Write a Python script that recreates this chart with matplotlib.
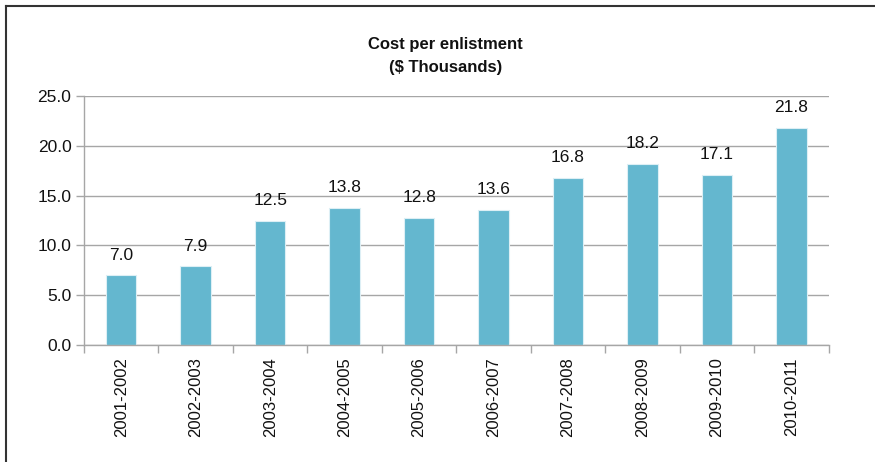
import matplotlib
matplotlib.use("Agg")
import matplotlib.pyplot as plt
from matplotlib.lines import Line2D

plt.rcParams['font.family'] = ['Liberation Sans Narrow', 'Liberation Sans', 'DejaVu Sans']

categories = ["2001-2002", "2002-2003", "2003-2004", "2004-2005", "2005-2006",
              "2006-2007", "2007-2008", "2008-2009", "2009-2010", "2010-2011"]
values = [7.0, 7.9, 12.5, 13.8, 12.8, 13.6, 16.8, 18.2, 17.1, 21.8]
yticks = [0, 5, 10, 15, 20, 25]

fig = plt.figure(figsize=(8.75, 4.62), dpi=100)
ax = fig.add_axes([0.096, 0.2532, 0.851, 0.5390])

x = list(range(len(categories)))
bars = ax.bar(x, values, width=0.41, color="#64B7CF", edgecolor="#DDEFF5", linewidth=0.8, zorder=2)

ax.set_xlim(-0.5, len(categories) - 0.5)
ax.set_ylim(0, 25)
ax.set_yticks(yticks)
ax.set_yticklabels([f"{v:.1f}" for v in yticks], fontsize=12.5, color="#111111")
ax.yaxis.grid(True, color="#A6A6A6", linewidth=1.0, zorder=0)
ax.set_axisbelow(True)

ax.set_xticks([i - 0.5 for i in range(len(categories) + 1)])
ax.set_xticklabels([])
ax.set_xticks(x, minor=True)
ax.set_xticklabels(categories, minor=True, rotation=90, fontsize=12, color="#111111")
ax.tick_params(axis='x', which='minor', length=0, pad=9)
ax.tick_params(axis='x', which='major', length=6, color="#A6A6A6", width=1.0)
ax.tick_params(axis='y', length=6, color="#A6A6A6", width=1.0, pad=3)

for s in ["top", "right"]:
    ax.spines[s].set_visible(False)
for s in ["left", "bottom"]:
    ax.spines[s].set_color("#A6A6A6")
    ax.spines[s].set_linewidth(1.0)

for xi, v in zip(x, values):
    ax.annotate(f"{v:.1f}", (xi, v), xytext=(0, 9), textcoords="offset points",
                ha="center", va="bottom", fontsize=12.5, color="#111111", zorder=3)

fig.text(0.509, 0.879, "Cost per enlistment\n($ Thousands)", ha="center", va="center",
         fontsize=12, fontweight="bold", color="#111111", linespacing=1.6)

# figure border (left and top)
fig.add_artist(Line2D([5.5/875, 5.5/875], [0, 1 - 6/462], transform=fig.transFigure,
                      color="#333333", linewidth=1.5))
fig.add_artist(Line2D([5.5/875, 1], [1 - 6/462, 1 - 6/462], transform=fig.transFigure,
                      color="#333333", linewidth=1.5))

fig.savefig("out.png", dpi=100)
